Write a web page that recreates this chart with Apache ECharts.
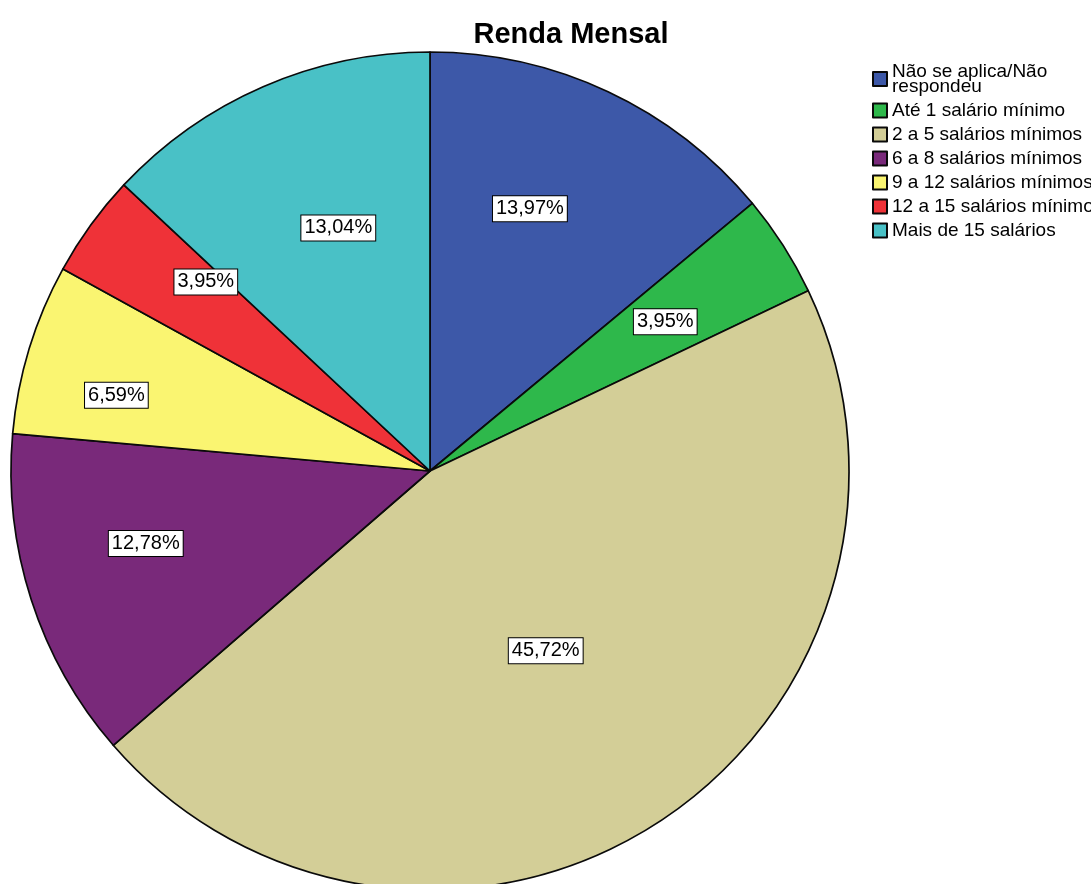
<!DOCTYPE html>
<html>
<head>
<meta charset="utf-8">
<script src="https://cdn.jsdelivr.net/npm/echarts@6/dist/echarts.min.js"></script>
<style>
  html, body { margin: 0; padding: 0; background: #fff; }
  #chart { width: 1091px; height: 884px; }
</style>
</head>
<body>
<div id="chart"></div>
<script>
// Renda Mensal — percentage of respondents per monthly income band
const categories = [
  'Não se aplica/Não\nrespondeu',
  'Até 1 salário mínimo',
  '2 a 5 salários mínimos',
  '6 a 8 salários mínimos',
  '9 a 12 salários mínimos',
  '12 a 15 salários mínimos',
  'Mais de 15 salários'
];
const percents = [13.97, 3.95, 45.72, 12.78, 6.59, 3.95, 13.04];
const sliceColors = ['#3d58a8', '#2eb84b', '#d3ce97', '#79297a', '#faf571', '#ef3238', '#49c1c6'];

// placement of each value box inside its slice:
// distance out as a share of the radius, and a small turn (degrees) off the slice middle
const labelDepth = [0.67, 0.665, 0.51, 0.70, 0.77, 0.70, 0.62];
const labelTurn = [-4.3, 0.2, 0.4, 3.6, -3.4, 4.2, 2.8];

const CX = 430, CY = 471, R = 419;
const FONT = '"Liberation Sans", Arial, sans-serif';

const chart = echarts.init(document.getElementById('chart'), null, { renderer: 'canvas' });

chart.setOption({
  backgroundColor: '#ffffff',
  animation: false,
  title: {
    text: 'Renda Mensal',
    left: 566,
    top: 15,
    textAlign: 'center',
    textStyle: { fontFamily: FONT, fontSize: 29, fontWeight: 'bold', color: '#000' }
  },
  legend: {
    orient: 'vertical',
    left: 872,
    top: 62,
    icon: 'rect',
    itemWidth: 14,
    itemHeight: 14,
    itemGap: 5,
    padding: 0,
    data: categories,
    textStyle: { fontFamily: FONT, fontSize: 19, lineHeight: 15, color: '#000' }
  },
  series: [{
    type: 'pie',
    center: [CX, CY],
    radius: [0, R],
    startAngle: 90,
    clockwise: true,
    silent: true,
    avoidLabelOverlap: false,
    itemStyle: { borderColor: '#0a0a0a', borderWidth: 1.7 },
    label: {
      show: true,
      position: 'inside',
      formatter: p => p.value.toFixed(2).replace('.', ',') + '%',
      fontFamily: FONT,
      fontSize: 20,
      color: '#000',
      backgroundColor: '#fff',
      borderColor: '#000',
      borderWidth: 1,
      padding: [3, 3, 2, 3]
    },
    labelLine: { show: false },
    labelLayout: function (params) {
      const r = params.labelRect;
      const mx = r.x + r.width / 2 - CX;
      const my = r.y + r.height / 2 - CY;
      // angle measured clockwise from 12 o'clock
      const theta = Math.atan2(mx, -my) + labelTurn[params.dataIndex] * Math.PI / 180;
      const dist = labelDepth[params.dataIndex] * R;
      const tx = Math.sin(theta) * dist;
      const ty = -Math.cos(theta) * dist;
      return { dx: tx - mx, dy: ty - my };
    },
    data: categories.map((name, i) => ({
      name: name,
      value: percents[i],
      itemStyle: { color: sliceColors[i] }
    }))
  }]
});
</script>
</body>
</html>
